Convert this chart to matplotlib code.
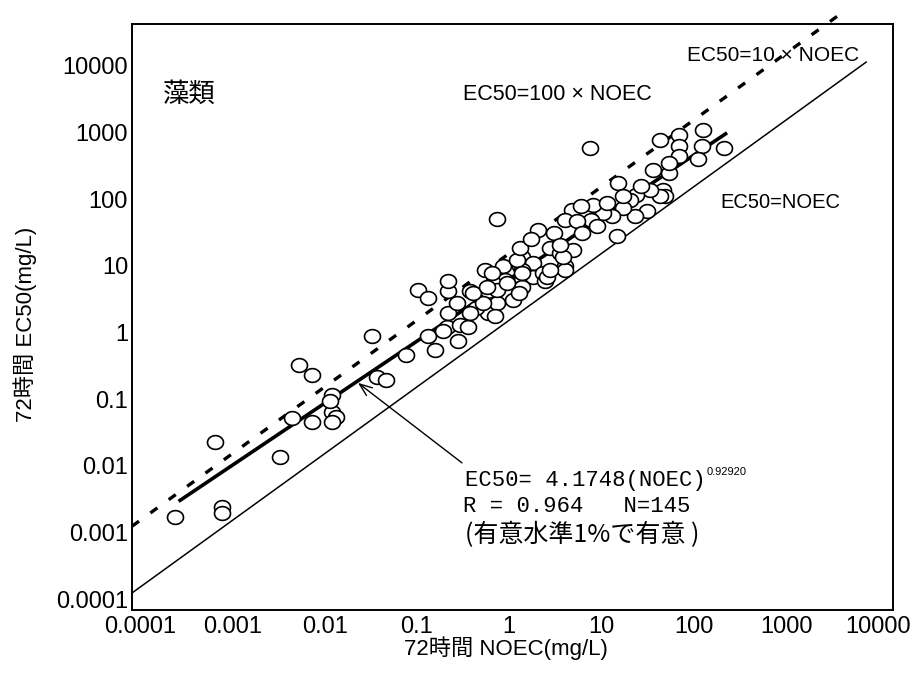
import numpy as np
import matplotlib
matplotlib.use("Agg")
import matplotlib.pyplot as plt
from matplotlib.path import Path
from matplotlib.transforms import offset_copy

# ---------------- data ----------------
noec = [2.9e-4, 9.4e-4, 9.4e-4, 7.9e-4, 4.0e-3, 6.5e-3, 8.9e-3, 5.4e-3, 8.9e-3,
        0.0146, 0.0146, 0.0162, 0.0146, 0.0140, 0.0395, 0.0448, 0.0565, 0.093,
        0.162, 0.192, 0.343, 0.257, 0.358, 0.436, 0.234, 0.265, 0.126, 0.161,
        0.267, 0.267, 0.46, 0.72, 0.72, 0.54, 0.89,
        9.2, 0.89, 53, 85, 85, 85, 155, 148, 136, 259, 44, 65, 57, 60, 52, 41,
        29, 25, 38, 28, 21, 18.5, 17.8, 15.7, 12.8, 10, 9.5, 5.8, 4.9, 6.6, 7.5,
        2.5, 3.7, 3.4, 4.3, 4.9, 6.0, 1.67, 1.6, 1.67, 1.6, 2.2, 2.2, 2.86, 3.0,
        1.05, 1.1, 0.67, 0.82, 0.89,
        0.46, 0.64, 0.86, 0.79, 1.35, 1.67, 1.67, 3.1, 4.9, 0.33, 0.5, 0.70,
        1.15, 1.47, 3.4, 4.7, 1.6, 1.67, 1.55, 7.4, 2.1, 4.3, 10.8, 13.9, 21,
        33, 65]
ec50 = [1.36e-3, 1.97e-3, 1.57e-3, 0.0185, 0.011, 0.262, 0.185, 0.0416, 0.037,
        0.093, 0.052, 0.044, 0.037, 0.074, 0.70, 0.175, 0.156, 0.37,
        0.70, 0.44, 0.59, 0.98, 1.04, 0.98, 0.83, 1.58, 3.5, 2.65,
        3.3, 4.66, 3.3, 3.3, 1.56, 1.85, 2.2,
        464, 40, 620, 736, 492, 348, 875, 492, 318, 464, 220, 196, 110, 87.5, 87.5, 110,
        93, 78, 52, 44, 58, 139, 22, 44, 49, 66, 39, 55, 39, 37, 24.7,
        27.7, 24.7, 14.7, 12.4, 7.8, 13.9, 11, 7.8, 4.9, 3.7, 8.8, 5.5, 6.2, 4.7,
        7.8, 4.9, 7.0, 4.4, 3.5,
        1.56, 2.2, 1.39, 6.2, 2.47, 3.9, 7.0, 5.5, 7.0, 2.2, 3.1, 3.9,
        4.4, 9.8, 7.0, 11, 14.7, 6.2, 3.1, 62, 20, 16.5, 31, 70, 87.5,
        124, 277]

reg_a = 4.1748
reg_b = 0.92920
reg_range = [3.2e-4, 280]
one_range = [1e-4, 9000]
ten_range = [1e-4, 5000]

tick_vals = [1e-4, 1e-3, 1e-2, 1e-1, 1, 10, 100, 1000, 10000]
tick_labels = ["0.0001", "0.001", "0.01", "0.1", "1", "10", "100", "1000", "10000"]

LAT = ["Liberation Sans", "Noto Sans CJK JP", "DejaVu Sans"]
MONO = ["Liberation Mono", "Noto Sans CJK JP", "DejaVu Sans"]
CJK = ["Noto Sans CJK JP", "DejaVu Sans"]

# ---------------- figure ----------------
fig = plt.figure(figsize=(9.15, 6.73), dpi=100)
ax = fig.add_axes([132/915, 1-610/673, 761/915, 586/673])
ax.set_xscale("log")
ax.set_yscale("log")
ax.set_xlim(1e-4, 10**4.245)
ax.set_ylim(10**-4.255, 10**4.525)
for s in ax.spines.values():
    s.set_linewidth(1.4)
    s.set_color("black")
ax.set_xticks(tick_vals)
ax.set_yticks(tick_vals)
ax.set_xticklabels([])
ax.set_yticklabels([])
ax.minorticks_off()
ax.tick_params(length=0)

xt = offset_copy(ax.get_xaxis_transform(), fig=fig, x=8, y=-17, units="dots")
yt = offset_copy(ax.get_yaxis_transform(), fig=fig, x=-4, y=-9, units="dots")
for v, lab in zip(tick_vals, tick_labels):
    ax.text(v, 0, lab, transform=xt, ha="center", va="center", fontsize=17,
            family=LAT, clip_on=False)
    ax.text(0, v, lab, transform=yt, ha="right", va="center", fontsize=17,
            family=LAT, clip_on=False)

# lines
xo = np.array(one_range)
ax.plot(xo, xo, color="black", lw=1.1, zorder=2)
xt10 = np.array(ten_range)
ax.plot(xt10, 10*xt10, color="black", lw=2.4, ls=(0, (2.6, 4.2)),
        clip_on=False, zorder=2)
xr = np.logspace(np.log10(reg_range[0]), np.log10(reg_range[1]), 50)
ax.plot(xr, reg_a*xr**reg_b, color="black", lw=2.6, zorder=2,
        solid_capstyle="butt")

# ellipse markers
t = np.linspace(0, 2*np.pi, 64)
ell = Path(np.column_stack([np.cos(t), 0.86*np.sin(t)]))
ax.plot(noec, ec50, ls="none", marker=ell, ms=11.5, mfc="white", mec="black",
        mew=1.2, zorder=3)

# texts
ax.text(0.041, 0.880, "藻類", transform=ax.transAxes, fontsize=19, family=CJK,
        ha="left", va="center")
ax.text(0.435, 0.880, "EC50=100 × NOEC", transform=ax.transAxes, fontsize=15.5,
        family=LAT, ha="left", va="center")
ax.text(0.729, 0.947, "EC50=10 × NOEC", transform=ax.transAxes, fontsize=15,
        family=LAT, ha="left", va="center", zorder=4)
ax.text(0.773, 0.695, "EC50=NOEC", transform=ax.transAxes, fontsize=14.5,
        family=LAT, ha="left", va="center")

ax.text(0.4376, 0.2218, "EC50= 4.1748(NOEC)", transform=ax.transAxes,
        fontsize=16, family=MONO, ha="left", va="center")
ax.text(0.755, 0.236, "0.92920", transform=ax.transAxes, fontsize=8,
        family=LAT, ha="left", va="center")
ax.text(0.435, 0.1758, "R = 0.964   N=145", transform=ax.transAxes,
        fontsize=16, family=MONO, ha="left", va="center")
ax.text(0.4376, 0.128, "(有意水準1%で有意 )", transform=ax.transAxes,
        fontsize=18, family=CJK, ha="left", va="center")

ax.annotate("", xy=(0.0281, 0.1406), xytext=(0.376, 0.0089),
            arrowprops=dict(arrowstyle="->,head_length=0.9,head_width=0.35",
                            lw=1.0, color="black", shrinkA=0, shrinkB=0))

fig.text(506/915, 1-648/673, "72時間 NOEC(mg/L)", fontsize=16, family=LAT,
         ha="center", va="center")
fig.text(25/915, 1-324/673, "72時間 EC50(mg/L)", fontsize=16, family=LAT,
         ha="center", va="center", rotation=90)

fig.savefig("out.png", dpi=100)
